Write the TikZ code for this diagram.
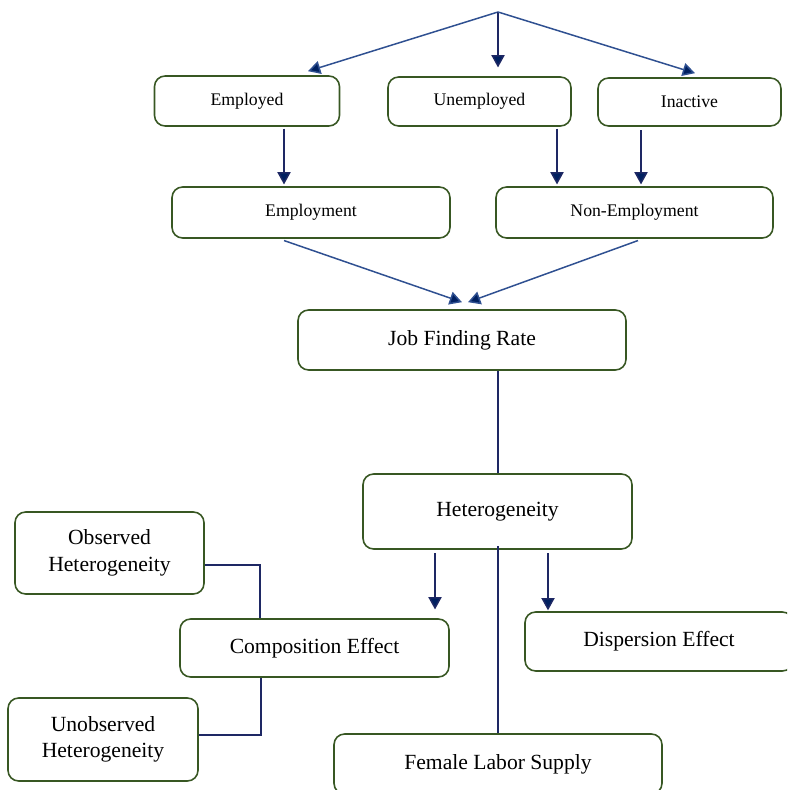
\documentclass[tikz,border=0pt]{standalone}
\usepackage{fontspec}
\setmainfont{Liberation Serif}
\usepackage{tikz}
\usetikzlibrary{arrows.meta}
\definecolor{boxgreen}{RGB}{56,87,35}
\definecolor{linenavy}{RGB}{30,40,100}
\definecolor{lineblue}{RGB}{47,80,145}
\definecolor{tipnavy}{RGB}{0,32,96}
\begin{document}
\begin{tikzpicture}[x=0.02cm,y=-0.02cm,
  box/.style={draw=boxgreen,line width=0.9pt,rounded corners=6pt,align=center},
  small/.style={box,font=\fontsize{10.1}{12}\selectfont},
  large/.style={box,font=\fontsize{12.3}{15}\selectfont},
  link/.style={draw=linenavy,line width=0.85pt},
  arr/.style={link,-{Triangle[width=7.5pt,length=7pt,fill=tipnavy]}},
  slant/.style={arr,draw=lineblue}]
\useasboundingbox (0,0) rectangle (787,790);
\clip (0,0) rectangle (787,790);
\node[small,minimum width=3.7cm,minimum height=1cm] (employed) at (247,101) {Employed};
\node[small,minimum width=3.66cm,minimum height=0.98cm] (unemployed) at (479.5,101.5) {Unemployed};
\node[small,minimum width=3.66cm,minimum height=0.96cm] (inactive) at (689.5,102) {Inactive};
\node[small,minimum width=5.56cm,minimum height=1.02cm] (employment) at (311,212.5) {Employment};
\node[small,minimum width=5.54cm,minimum height=1.02cm] (nonemp) at (634.5,212.5) {Non-Employment};
\node[large,minimum width=6.56cm,minimum height=1.2cm] (jobrate) at (462,340) {Job Finding Rate};
\node[large,minimum width=5.38cm,minimum height=1.5cm] (hetero) at (497.5,511.5) {Heterogeneity};
\node[large,minimum width=3.78cm,minimum height=1.64cm] (observed) at (109.5,553) {Observed\\Heterogeneity};
\node[large,minimum width=5.38cm,minimum height=1.16cm] (compos) at (314.5,648) {Composition Effect};
\node[large,minimum width=5.36cm,minimum height=1.18cm] (disp) at (659,641.5) {Dispersion Effect};
\node[large,minimum width=3.8cm,minimum height=1.66cm] (unobserved) at (103,739.5) {Unobserved\\Heterogeneity};
\node[large,minimum width=6.56cm,minimum height=1.2cm] (female) at (498,764) {Female Labor Supply};
\coordinate (apex) at (498,12);
\draw[slant] (apex) -- ([yshift=2.3pt]employed.north -| 308,0);
\draw[arr] (apex) -- ([yshift=5pt]unemployed.north -| 498,0);
\draw[slant] (apex) -- ([yshift=2.3pt]inactive.north -| 695,0);
\draw[arr] ([yshift=-1pt]employed.south -| 284,0) -- ([yshift=1pt]employment.north -| 284,0);
\draw[arr] ([yshift=-1pt]unemployed.south -| 557,0) -- ([yshift=1pt]nonemp.north -| 557,0);
\draw[arr] ([yshift=-2pt]inactive.south -| 641,0) -- ([yshift=1pt]nonemp.north -| 641,0);
\draw[slant] ([yshift=-1pt]employment.south -| 284,0) -- ([yshift=4pt]jobrate.north -| 462,0);
\draw[slant] ([yshift=-1pt]nonemp.south -| 638,0) -- ([yshift=4pt]jobrate.north -| 468,0);
\draw[link] (jobrate.south -| 498,0) -- (hetero.north -| 498,0);
\draw[arr] ([yshift=-2pt]hetero.south -| 435,0) -- ([yshift=5pt]compos.north -| 435,0);
\draw[arr] ([yshift=-2pt]hetero.south -| 548,0) -- ([yshift=0.5pt]disp.north -| 548,0);
\draw[link] ([yshift=2pt]hetero.south -| 498,0) -- (female.north -| 498,0);
\draw[link] (observed.east |- 0,565) -| (compos.north -| 260,0);
\draw[link] (compos.south -| 261,0) |- (unobserved.east |- 0,735);
\end{tikzpicture}
\end{document}
